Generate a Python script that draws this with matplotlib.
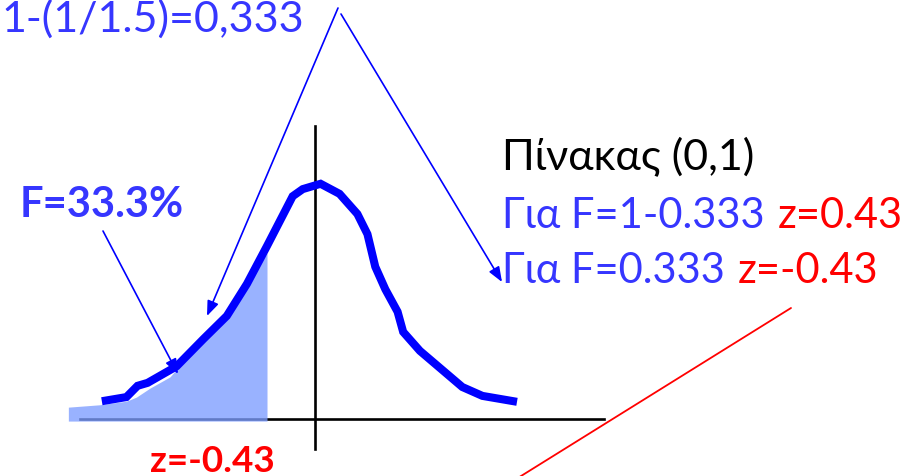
import matplotlib
matplotlib.use("Agg")
import matplotlib.pyplot as plt

# Standard normal density, traced as a polyline (z, height)
curve_z = [-1.91, -1.69, -1.59, -1.50, -1.24, -1.00, -0.79, -0.61, -0.43,
           -0.20, -0.11, 0.05, 0.22, 0.38, 0.47, 0.54, 0.63, 0.74, 0.79,
           0.94, 1.32, 1.50, 1.81]
curve_h = [0.030, 0.037, 0.056, 0.061, 0.089, 0.135, 0.174, 0.228, 0.292,
           0.376, 0.388, 0.397, 0.380, 0.346, 0.312, 0.257, 0.219, 0.181,
           0.147, 0.115, 0.054, 0.039, 0.029]

# Shaded lower tail, F = P(Z <= z)
tail_z = [-2.21, -1.93, -1.69, -1.60, -1.48, -1.30, -1.12, -0.85, -0.63,
          -0.43]
tail_h = [0.020, 0.024, 0.030, 0.037, 0.052, 0.071, 0.110, 0.164, 0.224,
          0.280]

z_crit = -0.43
F_value = 0.333

W, H = 921, 477
X0, SX = 315.0, 111.6      # pixel of z = 0, pixels per z unit
Y0, SY = 420.0, 592.5      # pixel of baseline, pixels per density unit

fig = plt.figure(figsize=(W / 100, H / 100), dpi=100)
ax = fig.add_axes([0, 0, 1, 1])
ax.set_xlim(-X0 / SX, (W - X0) / SX)
ax.set_ylim(-(H - Y0) / SY, Y0 / SY)
ax.axis("off")


def fx(px):
    return px / W


def fy(py):
    return 1 - py / H


FONT = "Lato"
BLUE_TXT = "#3636ff"
BLUE = "#0000ff"
RED = "#ff0000"
FS = 31
FS_TABLE = 30

# axes of the z plane
ax.plot([-2.106, 2.59], [0, 0], color="black", lw=1.9, zorder=1)
ax.plot([0, 0], [-0.051, 0.495], color="black", lw=1.9, zorder=1)

# shaded area under the tail
ax.fill_between(tail_z, -0.0035, tail_h, color="#7d9dff", alpha=0.78,
                lw=0, zorder=2)

# density curve
ax.plot(curve_z, curve_h, color=BLUE, lw=5.8, solid_joinstyle="miter",
        solid_capstyle="butt", zorder=3)

# texts
fig.text(fx(1), fy(32), "1-(1/1.5)=0,333", color=BLUE_TXT, fontsize=FS,
         family=FONT, va="baseline", ha="left")
fig.text(fx(20), fy(217), f"F={F_value * 100:.1f}%", color=BLUE_TXT,
         fontsize=30, family=FONT, weight="bold", va="baseline", ha="left")
fig.text(fx(502), fy(170), "Πίνακας (0,1)", color="black", fontsize=FS,
         family=FONT, va="baseline", ha="left")
fig.text(fx(502), fy(228), f"Για F=1-{F_value:.3f}", color=BLUE_TXT,
         fontsize=FS_TABLE, family=FONT, va="baseline", ha="left")
fig.text(fx(778), fy(228), f"z={-z_crit:.2f}", color=RED, fontsize=FS_TABLE,
         family=FONT, va="baseline", ha="left")
fig.text(fx(502), fy(283), f"Για F={F_value:.3f}", color=BLUE_TXT,
         fontsize=FS_TABLE, family=FONT, va="baseline", ha="left")
fig.text(fx(738), fy(283), f"z={z_crit:.2f}", color=RED, fontsize=FS_TABLE,
         family=FONT, va="baseline", ha="left")
fig.text(fx(150), fy(472), f"z={z_crit:.2f}", color=RED, fontsize=26.5,
         family=FONT, weight="bold", va="baseline", ha="left")

# pointer arrows
arrow = dict(arrowstyle="-|>,head_length=0.9,head_width=0.35", color=BLUE,
             lw=1.2, shrinkA=0, shrinkB=0)
ax.annotate("", xy=(fx(207), fy(317)), xytext=(fx(338), fy(9)),
            xycoords="figure fraction", textcoords="figure fraction",
            arrowprops=arrow, zorder=4)
ax.annotate("", xy=(fx(502), fy(283)), xytext=(fx(341), fy(15)),
            xycoords="figure fraction", textcoords="figure fraction",
            arrowprops=arrow, zorder=4)
ax.annotate("", xy=(fx(178), fy(375)), xytext=(fx(103), fy(232)),
            xycoords="figure fraction", textcoords="figure fraction",
            arrowprops=arrow, zorder=4)

# red connector towards the z value
ax.annotate("", xy=(fx(505), fy(487)), xytext=(fx(791), fy(309)),
            xycoords="figure fraction", textcoords="figure fraction",
            arrowprops=dict(arrowstyle="-", color=RED, lw=1.3,
                            shrinkA=0, shrinkB=0), zorder=4)

fig.savefig("out.png", dpi=100)
